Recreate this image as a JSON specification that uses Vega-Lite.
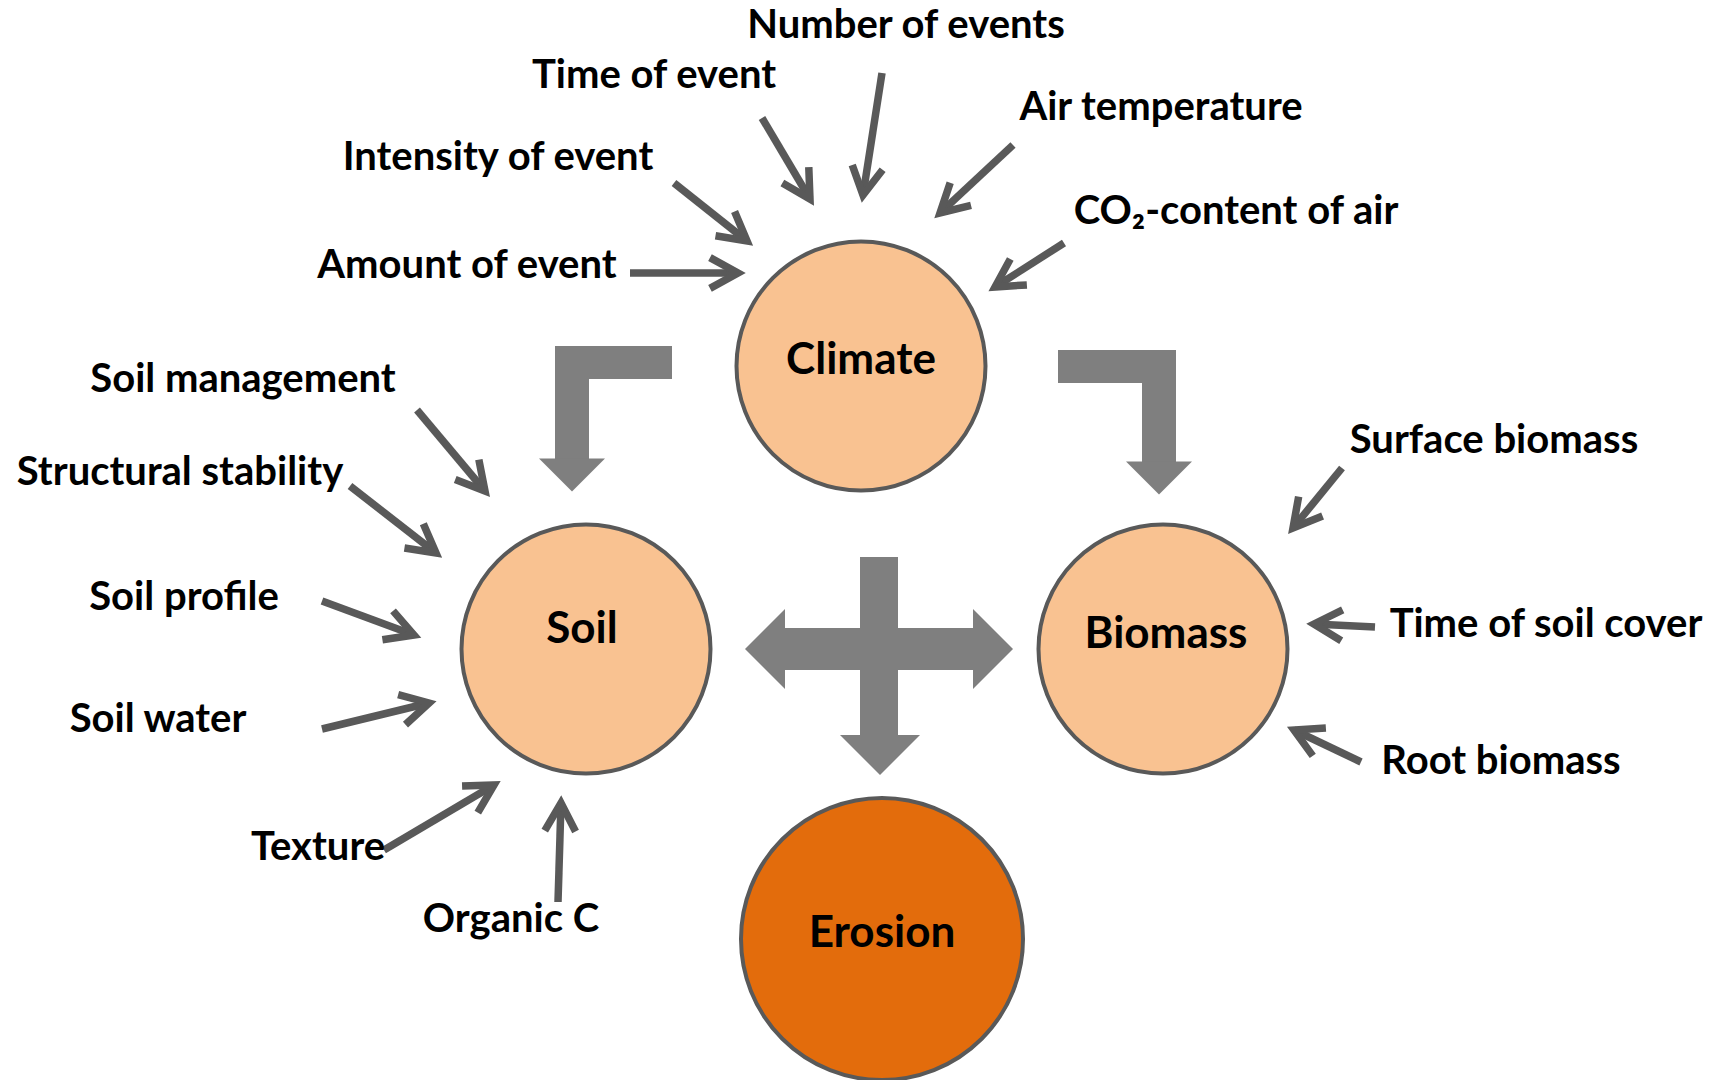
{
  "$schema": "https://vega.github.io/schema/vega-lite/v6.json",
  "width": 1715,
  "height": 1080,
  "autosize": {"type": "none"},
  "padding": 0,
  "background": "white",
  "config": {"view": {"stroke": null}},
  "datasets": {
    "bars": [
      {"part": "Climate to Soil (horizontal)", "x": 555, "x2": 672, "y": 346, "y2": 379},
      {"part": "Climate to Soil (vertical)", "x": 555, "x2": 589, "y": 346, "y2": 460},
      {"part": "Climate to Biomass (horizontal)", "x": 1058, "x2": 1176, "y": 350, "y2": 383},
      {"part": "Climate to Biomass (vertical)", "x": 1142, "x2": 1176, "y": 350, "y2": 464},
      {"part": "Cross (vertical)", "x": 860, "x2": 898, "y": 557, "y2": 738},
      {"part": "Cross (horizontal)", "x": 784, "x2": 974, "y": 628, "y2": 670}
    ],
    "elbowHeads": [
      {"to": "Soil", "x": 572, "y": 475, "dir": 0},
      {"to": "Biomass", "x": 1159, "y": 478, "dir": 0}
    ],
    "crossHeads": [
      {"to": "Biomass", "x": 993, "y": 649, "dir": -90},
      {"to": "Soil", "x": 765, "y": 649, "dir": 90},
      {"to": "Erosion", "x": 880, "y": 755, "dir": 0}
    ],
    "arrows": [
      {"factor": "Amount of event", "x": 630, "y": 273, "x2": 738, "y2": 273, "dir": 0},
      {"factor": "Intensity of event", "x": 674, "y": 183, "x2": 747, "y2": 241, "dir": 38.3},
      {"factor": "Time of event", "x": 762, "y": 118, "x2": 810, "y2": 199, "dir": 59.0},
      {"factor": "Number of events", "x": 882, "y": 73, "x2": 863, "y2": 195, "dir": 99.1},
      {"factor": "Air temperature", "x": 1013, "y": 145, "x2": 940, "y2": 213, "dir": 137.4},
      {"factor": "CO2-content of air", "x": 1064, "y": 243, "x2": 995, "y2": 287, "dir": 147.4},
      {"factor": "Soil management", "x": 417, "y": 410, "x2": 485, "y2": 491, "dir": 50.1},
      {"factor": "Structural stability", "x": 350, "y": 486, "x2": 436, "y2": 553, "dir": 37.8},
      {"factor": "Soil profile", "x": 322, "y": 601, "x2": 414, "y2": 635, "dir": 20.2},
      {"factor": "Soil water", "x": 322, "y": 729, "x2": 429, "y2": 703, "dir": -13.8},
      {"factor": "Texture", "x": 384, "y": 850, "x2": 494, "y2": 785, "dir": -30.7},
      {"factor": "Organic C", "x": 558, "y": 902, "x2": 561, "y2": 803, "dir": -88.3},
      {"factor": "Surface biomass", "x": 1342, "y": 468, "x2": 1293, "y2": 528, "dir": 129.0},
      {"factor": "Time of soil cover", "x": 1375, "y": 627, "x2": 1314, "y2": 624, "dir": -177.3},
      {"factor": "Root biomass", "x": 1361, "y": 762, "x2": 1294, "y2": 730, "dir": -154.8}
    ],
    "nodes": [
      {"name": "Climate", "x": 861, "y": 366},
      {"name": "Soil", "x": 586, "y": 649},
      {"name": "Biomass", "x": 1163, "y": 649}
    ],
    "outcome": [
      {"name": "Erosion", "x": 882, "y": 939}
    ],
    "nodeLabels": [
      {"text": "Climate", "x": 861, "y": 374},
      {"text": "Soil", "x": 582, "y": 643},
      {"text": "Biomass", "x": 1166, "y": 648},
      {"text": "Erosion", "x": 882, "y": 947}
    ],
    "factorLabels": [
      {"text": "Number of events", "x": 906, "y": 38},
      {"text": "Time of event", "x": 654, "y": 88},
      {"text": "Intensity of event", "x": 498, "y": 170},
      {"text": "Amount of event", "x": 467, "y": 278},
      {"text": "Air temperature", "x": 1161, "y": 120},
      {"text": "CO₂-content of air", "x": 1236, "y": 224},
      {"text": "Soil management", "x": 243, "y": 392},
      {"text": "Structural stability", "x": 180, "y": 485},
      {"text": "Soil profile", "x": 184, "y": 610},
      {"text": "Soil water", "x": 158, "y": 732},
      {"text": "Texture", "x": 318, "y": 860},
      {"text": "Organic C", "x": 511, "y": 932},
      {"text": "Surface biomass", "x": 1494, "y": 453},
      {"text": "Time of soil cover", "x": 1546, "y": 637},
      {"text": "Root biomass", "x": 1501, "y": 774}
    ]
  },
  "layer": [
    {
      "data": {"name": "bars"},
      "mark": {"type": "rect", "color": "#7F7F7F", "opacity": 1},
      "encoding": {
        "x": {"field": "x", "type": "quantitative", "scale": {"domain": [0, 1715], "nice": false, "zero": false}, "axis": null},
        "x2": {"field": "x2"},
        "y": {"field": "y", "type": "quantitative", "scale": {"domain": [0, 1080], "nice": false, "zero": false, "reverse": true}, "axis": null},
        "y2": {"field": "y2"}
      }
    },
    {
      "data": {"name": "elbowHeads"},
      "mark": {"type": "point", "shape": "M -1 -0.5 L 1 -0.5 L 0 0.5 Z", "filled": true, "color": "#7F7F7F", "opacity": 1, "size": 4356},
      "encoding": {
        "x": {"field": "x", "type": "quantitative", "axis": null},
        "y": {"field": "y", "type": "quantitative", "axis": null},
        "angle": {"field": "dir", "type": "quantitative", "scale": null}
      }
    },
    {
      "data": {"name": "crossHeads"},
      "mark": {"type": "point", "shape": "M -1 -0.5 L 1 -0.5 L 0 0.5 Z", "filled": true, "color": "#7F7F7F", "opacity": 1, "size": 6400},
      "encoding": {
        "x": {"field": "x", "type": "quantitative", "axis": null},
        "y": {"field": "y", "type": "quantitative", "axis": null},
        "angle": {"field": "dir", "type": "quantitative", "scale": null}
      }
    },
    {
      "data": {"name": "arrows"},
      "mark": {"type": "rule", "color": "#595959", "strokeWidth": 7.5, "strokeCap": "butt", "opacity": 1},
      "encoding": {
        "x": {"field": "x", "type": "quantitative", "axis": null},
        "x2": {"field": "x2"},
        "y": {"field": "y", "type": "quantitative", "axis": null},
        "y2": {"field": "y2"}
      }
    },
    {
      "data": {"name": "arrows"},
      "mark": {"type": "point", "shape": "M -1 -0.55 L 0 0 L -1 0.55", "filled": false, "color": "#595959", "strokeWidth": 7.5, "strokeJoin": "miter", "strokeCap": "butt", "opacity": 1, "size": 3136},
      "encoding": {
        "x": {"field": "x2", "type": "quantitative", "axis": null},
        "y": {"field": "y2", "type": "quantitative", "axis": null},
        "angle": {"field": "dir", "type": "quantitative", "scale": null}
      }
    },
    {
      "data": {"name": "nodes"},
      "mark": {"type": "point", "shape": "circle", "filled": true, "fill": "#F9C291", "stroke": "#595959", "strokeWidth": 4, "opacity": 1, "size": 62001},
      "encoding": {
        "x": {"field": "x", "type": "quantitative", "axis": null},
        "y": {"field": "y", "type": "quantitative", "axis": null}
      }
    },
    {
      "data": {"name": "outcome"},
      "mark": {"type": "point", "shape": "circle", "filled": true, "fill": "#E36C0C", "stroke": "#595959", "strokeWidth": 4, "opacity": 1, "size": 79524},
      "encoding": {
        "x": {"field": "x", "type": "quantitative", "axis": null},
        "y": {"field": "y", "type": "quantitative", "axis": null}
      }
    },
    {
      "data": {"name": "nodeLabels"},
      "mark": {"type": "text", "font": "Lato", "fontWeight": "bold", "fontSize": 44, "align": "center", "baseline": "alphabetic", "color": "#000000"},
      "encoding": {
        "x": {"field": "x", "type": "quantitative", "axis": null},
        "y": {"field": "y", "type": "quantitative", "axis": null},
        "text": {"field": "text"}
      }
    },
    {
      "data": {"name": "factorLabels"},
      "mark": {"type": "text", "font": "Lato", "fontWeight": "bold", "fontSize": 40, "align": "center", "baseline": "alphabetic", "color": "#000000"},
      "encoding": {
        "x": {"field": "x", "type": "quantitative", "axis": null},
        "y": {"field": "y", "type": "quantitative", "axis": null},
        "text": {"field": "text"}
      }
    }
  ]
}
